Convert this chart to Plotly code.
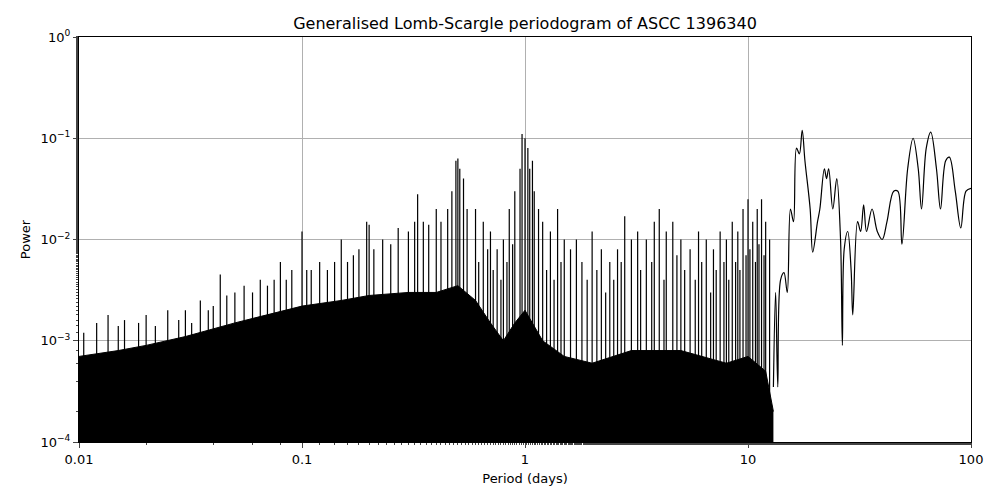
import plotly.graph_objects as go

# solid black body of the dense low-period part (upper edge)
body_period = [0.01, 0.015, 0.02, 0.03, 0.05, 0.07, 0.1, 0.15, 0.2, 0.3, 0.4, 0.5,
               0.6, 0.7, 0.8, 0.9, 1.0, 1.2, 1.5, 2.0, 3.0, 5.0, 8.0, 10.0, 12.0, 13.0]
body_power = [7e-4, 8e-4, 9e-4, 1.1e-3, 1.5e-3, 1.8e-3, 2.2e-3, 2.5e-3, 2.8e-3, 3e-3, 3e-3, 3.5e-3,
              2.5e-3, 1.5e-3, 1e-3, 1.5e-3, 2e-3, 1e-3, 7e-4, 6e-4, 8e-4, 8e-4, 6e-4, 7e-4, 5e-4, 2e-4]

# individual peaks sticking out of the body
peak_period = [0.0105, 0.012, 0.0135, 0.015, 0.016, 0.0185, 0.02, 0.022, 0.025, 0.028, 0.03, 0.032,
               0.035, 0.038, 0.04, 0.043, 0.046, 0.05, 0.055, 0.06, 0.065, 0.07, 0.075, 0.08,
               0.085, 0.09, 0.1, 0.105, 0.11, 0.12, 0.13, 0.14, 0.15, 0.16, 0.17, 0.18, 0.195, 0.2,
               0.21, 0.23, 0.25, 0.27, 0.3, 0.32, 0.33, 0.35, 0.37, 0.4, 0.42, 0.45, 0.47, 0.49,
               0.5, 0.51, 0.53, 0.55, 0.6, 0.65, 0.7, 0.75, 0.8, 0.85, 0.9, 0.95, 0.97, 1.0, 1.03,
               1.05, 1.08, 1.1, 1.15, 1.2, 1.3, 1.4, 1.5, 1.6, 1.7, 1.8, 2.0, 2.2, 2.4, 2.6, 2.8,
               3.0, 3.2, 3.5, 3.8, 4.0, 4.3, 4.6, 5.0, 5.5, 6.0, 6.5, 7.0, 7.5, 8.0, 8.5, 9.0, 9.5,
               10.0, 10.5, 11.0, 11.5, 12.0, 12.5,
               0.62, 0.68, 0.72, 0.78, 0.83, 0.88, 1.25, 1.35, 1.45, 1.9, 2.1, 2.3, 2.5, 2.7, 3.3,
               3.7, 4.2, 4.8, 5.2, 5.8, 6.2, 6.8, 7.2, 7.8, 8.2, 8.8, 9.2, 9.8, 10.2, 10.8, 11.2, 11.8]
peak_power = [1.2e-3, 1.5e-3, 1.8e-3, 1.4e-3, 1.6e-3, 1.5e-3, 1.8e-3, 1.4e-3, 2e-3, 1.6e-3, 2e-3, 1.5e-3,
              2.5e-3, 2e-3, 2.2e-3, 4.5e-3, 2.8e-3, 3e-3, 3.5e-3, 3e-3, 4e-3, 3.5e-3, 4e-3, 6e-3,
              4e-3, 5e-3, 1.2e-2, 5e-3, 5e-3, 6e-3, 5e-3, 6e-3, 1e-2, 6e-3, 7e-3, 8e-3, 1.5e-2, 1.4e-2,
              8e-3, 1e-2, 9e-3, 1.3e-2, 1.2e-2, 1.5e-2, 2.8e-2, 1.5e-2, 1.4e-2, 2e-2, 1.5e-2, 2e-2, 3e-2, 6e-2,
              6.3e-2, 5e-2, 4e-2, 2e-2, 2e-2, 1.5e-2, 1.2e-2, 8e-3, 1e-2, 2e-2, 3e-2, 5e-2, 0.11, 0.1, 0.08,
              0.05, 0.06, 0.03, 0.02, 0.015, 0.012, 0.02, 0.01, 0.008, 0.01, 0.006, 0.012, 0.008, 0.006, 0.008, 0.017,
              0.01, 0.012, 0.01, 0.015, 0.02, 0.012, 0.015, 0.01, 0.008, 0.012, 0.01, 0.008, 0.012, 0.01, 0.015, 0.012, 0.02,
              0.025, 0.015, 0.02, 0.025, 0.015, 0.01,
              0.006, 0.008, 0.005, 0.004, 0.006, 0.009, 0.005, 0.004, 0.006, 0.004, 0.005, 0.003, 0.004, 0.006, 0.005,
              0.006, 0.004, 0.007, 0.005, 0.004, 0.006, 0.003, 0.005, 0.006, 0.004, 0.006, 0.005, 0.007, 0.008, 0.006, 0.009, 0.007]

# smooth long-period part
long_period = [13, 13.3, 13.6, 14, 14.5, 15, 15.5, 16, 16.5, 17, 17.5, 18, 19, 19.5, 20.5, 21, 22, 22.5,
               23, 24, 25, 26, 26.5, 27, 28, 29, 29.5, 31, 32, 33, 34, 36, 38, 40, 42, 45, 47, 49, 52,
               55, 58, 60, 63, 66, 70, 73, 77, 80, 85, 90, 95, 100]
long_power = [3.5e-4, 3e-3, 3.5e-4, 4e-3, 4.7e-3, 3e-3, 2e-2, 1.5e-2, 8e-2, 0.07, 0.12, 0.06, 0.02, 0.0075,
              0.015, 0.02, 0.05, 0.04, 0.05, 0.02, 0.04, 0.01, 9e-4, 0.008, 0.012, 0.005, 0.0018, 0.015, 0.012,
              0.022, 0.012, 0.02, 0.012, 0.01, 0.015, 0.03, 0.03, 0.009, 0.05, 0.1, 0.05, 0.02, 0.08, 0.115,
              0.05, 0.02, 0.06, 0.065, 0.03, 0.013, 0.03, 0.032]

floor = 5e-5
fig = go.Figure()
fig.add_trace(go.Scatter(x=body_period, y=[floor] * len(body_period), mode="lines",
                         line=dict(width=0, color="black"), showlegend=False))
fig.add_trace(go.Scatter(x=body_period, y=body_power, mode="lines", fill="tonexty",
                         fillcolor="black", line=dict(width=1, color="black"), showlegend=False))
sx, sy = [], []
for p, h in zip(peak_period, peak_power):
    sx += [p, p, None]
    sy += [floor, h, None]
fig.add_trace(go.Scatter(x=sx, y=sy, mode="lines", line=dict(width=1.2, color="black"), showlegend=False))
fig.add_trace(go.Scatter(x=long_period, y=long_power, mode="lines", line=dict(width=1.2, color="black", shape="spline"),
                         showlegend=False))

ax = dict(showline=True, linecolor="black", linewidth=1, mirror=True, ticks="outside", showgrid=True,
          gridcolor="#b0b0b0", zeroline=False, tickfont=dict(size=13, color="black"), automargin=False,
          minor=dict(ticks="outside", ticklen=2, showgrid=False))
fig.update_layout(
    width=1000, height=500, plot_bgcolor="white", paper_bgcolor="white",
    margin=dict(l=71, r=37, t=29, b=66),
    font=dict(family="DejaVu Sans", color="black"),
    title=dict(text="Generalised Lomb-Scargle periodogram of ASCC 1396340", x=0.517, y=0.97,
               xanchor="center", yanchor="middle", font=dict(size=16)),
    xaxis=dict(type="log", range=[-2, 2], title=dict(text="Period (days)", font=dict(size=13), standoff=8),
               tickvals=[0.01, 0.1, 1, 10, 100], ticktext=["0.01", "0.1", "1", "10", "100"], **ax),
    yaxis=dict(type="log", range=[-4, 0], title=dict(text="Power", font=dict(size=13), standoff=6),
               tickvals=[1e-4, 1e-3, 1e-2, 1e-1, 1],
               ticktext=["10<sup>−4</sup>", "10<sup>−3</sup>", "10<sup>−2</sup>", "10<sup>−1</sup>", "10<sup>0</sup>"], **ax),
)
fig.write_html("out.html")
